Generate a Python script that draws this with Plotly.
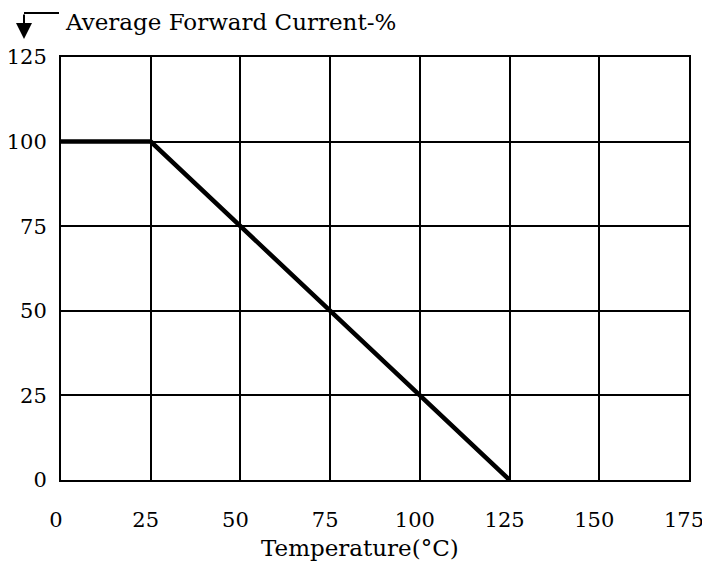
import plotly.graph_objects as go

temperature = [0, 25, 125]
current_pct = [100, 100, 0]
x_ticks = [0, 25, 50, 75, 100, 125, 150, 175]
y_ticks = [0, 25, 50, 75, 100, 125]

FONT = "DejaVu Serif"
OFF = 8  # page body margin
W, H = 710 - OFF, 581 - 2 * OFF
# target plot area in screen pixels: x 61..689, y 57..480
L, T = 61 - OFF, 57 - OFF
R, B = (W + OFF) - 689, (H + OFF) - 480
pw, ph = W - L - R, H - T - B

def px(x):
    return (x - OFF - L) / pw

def py(y):
    return (H - B - (y - OFF)) / ph

fig = go.Figure()
fig.add_trace(go.Scatter(x=temperature, y=current_pct, mode="lines",
                         line=dict(color="black", width=4.5), hoverinfo="skip",
                         showlegend=False))

axis_common = dict(showgrid=True, gridcolor="black", gridwidth=1.5, automargin=False,
                   showline=True, linecolor="black", linewidth=2, mirror=True,
                   zeroline=False, ticks="", ticklabeloverflow="allow",
                   tickfont=dict(family=FONT, size=21, color="black"))

fig.update_xaxes(range=[0, 175], tickvals=x_ticks, ticklabelstandoff=20,
                 ticklabelshift=-5, **axis_common)
fig.update_yaxes(range=[0, 125], tickvals=y_ticks, ticklabelstandoff=8, **axis_common)

fig.add_annotation(text="Average Forward Current-%", xref="paper", yref="paper",
                   x=px(63), y=py(22), xanchor="left", yanchor="middle", showarrow=False,
                   font=dict(family=FONT, size=23, color="black"))
fig.add_annotation(text="Temperature(°C)", xref="paper", yref="paper",
                   x=px(360), y=py(548), xanchor="center", yanchor="middle", showarrow=False,
                   font=dict(family=FONT, size=23, color="black"))
# arrow: horizontal stroke then vertical arrow downward
fig.add_shape(type="line", xref="paper", yref="paper", x0=px(24), y0=py(13), x1=px(59), y1=py(13),
              line=dict(color="black", width=2))
fig.add_annotation(xref="paper", yref="paper", x=px(24), y=py(39), ax=0, ay=-26,
                   showarrow=True, arrowhead=2, arrowsize=1.6, arrowwidth=2, arrowcolor="black",
                   text="")

fig.update_layout(width=W, height=H, margin=dict(l=L, r=R, t=T, b=B),
                  plot_bgcolor="white", paper_bgcolor="white")
fig.write_html("out.html")
